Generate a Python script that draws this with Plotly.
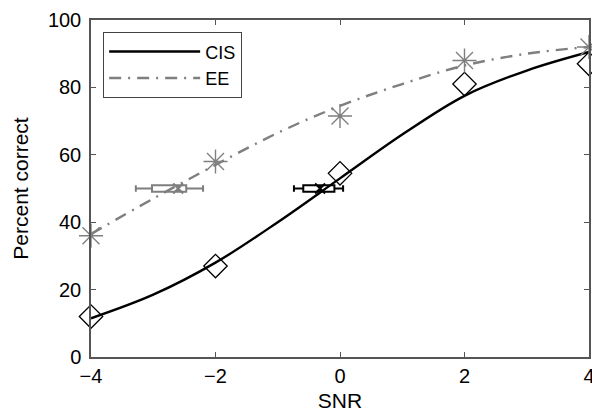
import plotly.graph_objects as go

# Measured data points
snr = [-4, -2, 0, 2, 4]
cis_pct = [12, 27, 54.5, 81, 87]
ee_pct = [36, 58, 71.5, 88, 92]

# Fitted curves
curve_snr = [-4, -3, -2, -1, 0, 1, 2, 3, 4]
cis_curve = [11.5, 18.5, 28, 40, 53, 66, 77.5, 85, 90.5]
ee_curve = [36.5, 47, 57, 66.5, 74.5, 81, 86.5, 90, 92]

# Threshold (50 % point) distributions: whiskers, box, median
thr_level = 50
ee_thr = dict(lo=-3.28, q1=-3.02, med=-2.6, q3=-2.47, hi=-2.2)
cis_thr = dict(lo=-0.74, q1=-0.59, med=-0.32, q3=-0.09, hi=0.05)

GRAY = "#7f7f7f"
FONT = "Liberation Sans, Arial, sans-serif"

fig = go.Figure()

fig.add_trace(go.Scatter(x=curve_snr, y=cis_curve, mode="lines", name="CIS",
                         line=dict(color="black", width=2.4, shape="spline")))
fig.add_trace(go.Scatter(x=curve_snr, y=ee_curve, mode="lines", name="EE",
                         line=dict(color=GRAY, width=2.4, shape="spline",
                                   dash="12px,7px,2px,7px")))

fig.add_trace(go.Scatter(x=snr, y=cis_pct, mode="markers", showlegend=False,
                         cliponaxis=False,
                         marker=dict(symbol="diamond-open", size=18, color="black",
                                     line=dict(width=1.3, color="black"))))
fig.add_trace(go.Scatter(x=snr, y=ee_pct, mode="markers", showlegend=False,
                         cliponaxis=False,
                         marker=dict(symbol="asterisk-open", size=20, color=GRAY,
                                     line=dict(width=1.4, color=GRAY))))

for d, col in ((ee_thr, GRAY), (cis_thr, "black")):
    fig.add_trace(go.Box(orientation="h", y=[thr_level], q1=[d["q1"]], median=[d["med"]],
                         q3=[d["q3"]], lowerfence=[d["lo"]], upperfence=[d["hi"]],
                         width=1.9, whiskerwidth=1, showlegend=False,
                         fillcolor="rgba(0,0,0,0)", line=dict(color=col, width=2)))
    fig.add_trace(go.Scatter(x=[d["med"]], y=[thr_level], mode="markers", showlegend=False,
                             marker=dict(symbol="x-thin-open", size=10, color=col,
                                         line=dict(width=2, color=col))))

axis_common = dict(showgrid=False, zeroline=False, showline=True, linecolor="#555",
                   linewidth=1.5, mirror="ticks", ticks="inside", ticklen=5,
                   tickcolor="#555", ticklabeloverflow="allow", automargin=False,
                   tickfont=dict(size=20, color="black", family=FONT))

fig.update_xaxes(range=[-4, 4], tickvals=[-4, -2, 0, 2, 4],
                 ticktext=["\u22124", "\u22122", "0", "2", "4"],
                 title=dict(text="SNR", font=dict(size=21, family=FONT), standoff=8),
                 **axis_common)
fig.update_yaxes(range=[0, 100], tickvals=[0, 20, 40, 60, 80, 100],
                 title=dict(text="Percent correct", font=dict(size=21, family=FONT), standoff=14),
                 ticklabelstandoff=4, **axis_common)

fig.update_layout(
    width=592, height=413,
    margin=dict(l=91, r=3, t=20, b=56),
    plot_bgcolor="white", paper_bgcolor="white",
    font=dict(family=FONT, size=18, color="black"),
    legend=dict(x=0.024, y=0.964, xanchor="left", yanchor="top",
                bordercolor="#444", borderwidth=1.2, bgcolor="white",
                itemwidth=91, font=dict(size=18), tracegroupgap=0),
)

fig.write_html("out.html")
